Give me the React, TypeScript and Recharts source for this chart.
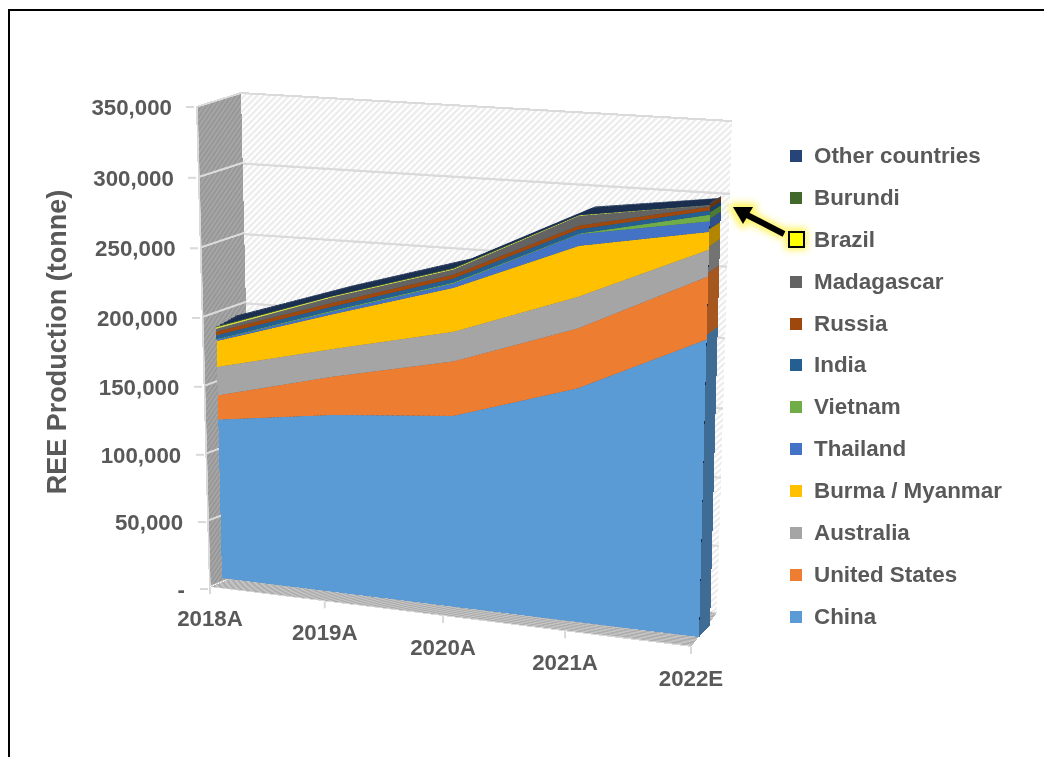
import React from 'react';
import {
  AreaChart,
  Area,
  XAxis,
  YAxis,
  CartesianGrid,
  ReferenceLine,
  Legend,
} from 'recharts';

// Annual rare earth production by country, in tonnes.
const years = ['2018A', '2019A', '2020A', '2021A', '2022E'];
const china = [120000, 132000, 140000, 168000, 210000];
const unitedStates = [18000, 28000, 39000, 42000, 43000];
const australia = [21000, 20000, 21000, 22000, 18000];
const burma = [19000, 25000, 31000, 35000, 12000];
const thailand = [1000, 1900, 3000, 8000, 7100];
const vietnam = [400, 700, 700, 400, 4300];
const india = [2900, 2900, 2900, 2900, 2900];
const russia = [2700, 2700, 2700, 2600, 2600];
const madagascar = [2000, 4000, 3500, 6500, 960];
const brazil = [1100, 710, 600, 500, 80];
const burundi = [630, 200, 500, 100, 0];
const otherCountries = [100, 100, 100, 100, 100];

const seriesNames = [
  'China',
  'United States',
  'Australia',
  'Burma / Myanmar',
  'Thailand',
  'Vietnam',
  'India',
  'Russia',
  'Madagascar',
  'Brazil',
  'Burundi',
  'Other countries',
];
const seriesValues = [
  china,
  unitedStates,
  australia,
  burma,
  thailand,
  vietnam,
  india,
  russia,
  madagascar,
  brazil,
  burundi,
  otherCountries,
];
const seriesColors = [
  '#5B9BD5',
  '#ED7D31',
  '#A5A5A5',
  '#FFC000',
  '#4472C4',
  '#70AD47',
  '#255E91',
  '#9E480E',
  '#636363',
  '#D8DC4A',
  '#43682B',
  '#264478',
];
const sideColors = [
  '#3F6C94',
  '#A5571F',
  '#737373',
  '#B28600',
  '#2F5089',
  '#4E7931',
  '#1A4165',
  '#6E320A',
  '#454545',
  '#97991F',
  '#2E481E',
  '#1A2F54',
];
const valueTicks = [0, 50000, 100000, 150000, 200000, 250000, 300000, 350000];
const MAX_VALUE = 350000;

const rows = years.map((year, i) => {
  const row: Record<string, string | number> = { year };
  seriesNames.forEach((name, s) => {
    row[name] = seriesValues[s][i];
  });
  return row;
});
const lastRow = rows[rows.length - 1];
const sideRows = [
  { ...lastRow, year: 'front' },
  { ...lastRow, year: 'back' },
];

type Pt = [number, number];
type Quad = [Pt, Pt, Pt, Pt]; // top-left, top-right, bottom-right, bottom-left

// Projective coefficients taking the unit square onto a quad.
function solveQuad(q: Quad) {
  const [[x0, y0], [x1, y1], [x2, y2], [x3, y3]] = q;
  const dx1 = x1 - x2;
  const dx2 = x3 - x2;
  const sx = x0 - x1 + x2 - x3;
  const dy1 = y1 - y2;
  const dy2 = y3 - y2;
  const sy = y0 - y1 + y2 - y3;
  const den = dx1 * dy2 - dx2 * dy1;
  const g = (sx * dy2 - dx2 * sy) / den;
  const h = (dx1 * sy - sx * dy1) / den;
  return {
    a: x1 - x0 + g * x1,
    b: x3 - x0 + h * x3,
    c: x0,
    d: y1 - y0 + g * y1,
    e: y3 - y0 + h * y3,
    f: y0,
    g,
    h,
  };
}

function project(q: Quad, u: number, v: number): Pt {
  const m = solveQuad(q);
  const w = m.g * u + m.h * v + 1;
  return [(m.a * u + m.b * v + m.c) / w, (m.d * u + m.e * v + m.f) / w];
}

function lerpQuad(p: Quad, q: Quad, t: number): Quad {
  return p.map((pt, i) => [
    pt[0] + (q[i][0] - pt[0]) * t,
    pt[1] + (q[i][1] - pt[1]) * t,
  ]) as Quad;
}

// The 3D box: every face is an ordinary flat chart put into perspective.
const BACK_WALL: Quad = [[240, 92], [732, 120], [717, 613], [252, 570]];
const LEFT_WALL: Quad = [[196, 106], [241, 92], [252, 570], [209, 587]];
const FLOOR: Quad = [[252, 570], [717, 613], [691, 647], [210, 587]];
const AREA_FRONT: Quad = [[211, 101], [712, 131], [699, 637], [222, 578]];
const AREA_BACK: Quad = [[231, 88], [723, 125], [710, 625], [240, 571]];
const AREA_SIDE: Quad = [AREA_FRONT[1], AREA_BACK[1], AREA_BACK[2], AREA_FRONT[2]];
const TOP_SWEEP = [1, 0.8, 0.6, 0.4, 0.2];

const NONE = { top: 0, right: 0, bottom: 0, left: 0 };

function Plane({ quad, w, h, children }: { quad: Quad; w: number; h: number; children: React.ReactNode }) {
  const m = solveQuad(quad);
  const matrix = [
    m.a / w, m.d / w, 0, m.g / w,
    m.b / h, m.e / h, 0, m.h / h,
    0, 0, 1, 0,
    m.c, m.f, 0, 1,
  ].join(',');
  return (
    <div
      style={{
        position: 'absolute',
        left: 0,
        top: 0,
        width: w,
        height: h,
        transformOrigin: '0 0',
        transform: `matrix3d(${matrix})`,
      }}
    >
      {children}
    </div>
  );
}

function Stack({ w, h, data, colors }: { w: number; h: number; data: typeof rows; colors: string[] }) {
  return (
    <AreaChart width={w} height={h} data={data} margin={NONE}>
      <XAxis dataKey="year" hide />
      <YAxis hide domain={[0, MAX_VALUE]} />
      {seriesNames.map((name, i) => (
        <Area
          key={name}
          type="linear"
          dataKey={name}
          stackId="production"
          fill={colors[i]}
          fillOpacity={1}
          stroke="none"
          dot={false}
          activeDot={false}
          isAnimationActive={false}
        />
      ))}
    </AreaChart>
  );
}

function Hatch({ id, base, line }: { id: string; base: string; line: string }) {
  return (
    <defs>
      <pattern id={id} width="9" height="9" patternUnits="userSpaceOnUse" patternTransform="rotate(45)">
        <rect width="9" height="9" fill={base} />
        <rect width="4.5" height="9" fill={line} />
      </pattern>
    </defs>
  );
}

// The unpainted series keeps the value axis live so the reference lines have a scale.
function Wall({ id, w, h, base, line, edge }: { id: string; w: number; h: number; base: string; line: string; edge?: boolean }) {
  return (
    <AreaChart width={w} height={h} data={rows} margin={NONE}>
      <Hatch id={id} base={base} line={line} />
      <XAxis dataKey="year" hide />
      <YAxis hide domain={[0, MAX_VALUE]} ticks={valueTicks} />
      <CartesianGrid horizontal={false} vertical={false} fill={`url(#${id})`} fillOpacity={1} />
      <Area
        dataKey={seriesNames[0]}
        fill="none"
        stroke="none"
        dot={false}
        activeDot={false}
        isAnimationActive={false}
      />
      {valueTicks.map((v) => (
        <ReferenceLine key={v} y={v} stroke="#DADADA" strokeWidth={v === MAX_VALUE ? 8 : 4.5} />
      ))}
      {edge ? <ReferenceLine x={years[0]} stroke="#D9D9D9" strokeWidth={8} /> : null}
    </AreaChart>
  );
}

function FloorFace({ w, h }: { w: number; h: number }) {
  return (
    <AreaChart width={w} height={h} data={rows} margin={NONE}>
      <Hatch id="floorHatch" base="#C4C4C4" line="#ADADAD" />
      <XAxis dataKey="year" hide />
      <YAxis hide domain={[0, MAX_VALUE]} />
      <CartesianGrid horizontal={false} vertical={false} fill="url(#floorHatch)" fillOpacity={1} />
      <Area
        dataKey={seriesNames[0]}
        fill="none"
        stroke="none"
        dot={false}
        activeDot={false}
        isAnimationActive={false}
      />
      <ReferenceLine y={0} stroke="#D9D9D9" strokeWidth={6} />
    </AreaChart>
  );
}

// Value labels follow the wall's leading edge, which slants inwards going down.
function ValueTick({ y, payload }: any) {
  const share = payload.value / MAX_VALUE;
  const bow = 4.5 * Math.sin(Math.PI * share);
  const cy = y + bow;
  const edgeX = 207 - 14 * share;
  return (
    <g>
      <line x1={edgeX - 7} x2={edgeX + 1} y1={cy} y2={cy} stroke="#D9D9D9" strokeWidth={2} />
      <text
        x={185 - 13 * share}
        y={cy}
        dy="0.35em"
        textAnchor="end"
        fontSize={22.3}
        fontWeight={700}
        fill="#595959"
      >
        {payload.value === 0 ? '-' : payload.value.toLocaleString('en-US')}
      </text>
    </g>
  );
}

// Year labels hang off the floor's front edge, spaced like the stack's categories.
function YearTick({ index, payload }: any) {
  const [frontX] = project(AREA_FRONT, index / (years.length - 1), 1);
  const [leftX, leftY] = FLOOR[3];
  const [rightX, rightY] = FLOOR[2];
  const x = leftX + ((frontX - AREA_FRONT[3][0]) * (rightX - leftX)) / (AREA_FRONT[2][0] - AREA_FRONT[3][0]);
  const y = leftY + ((x - leftX) * (rightY - leftY)) / (rightX - leftX);
  return (
    <g>
      <line x1={x} x2={x} y1={y} y2={y + 7} stroke="#D9D9D9" strokeWidth={2} />
      <text x={x} y={y + 31} dy="0.35em" textAnchor="middle" fontSize={22.3} fontWeight={700} fill="#595959">
        {payload.value}
      </text>
    </g>
  );
}

function LegendList() {
  const items = seriesNames.map((name, i) => ({ name, color: seriesColors[i] })).reverse();
  return (
    <div>
      {items.map((item) => {
        const highlighted = item.name === 'Brazil';
        return (
          <div
            key={item.name}
            style={{ position: 'relative', height: 41.9, lineHeight: '41.9px', whiteSpace: 'nowrap' }}
          >
            {highlighted ? (
              <span
                style={{
                  position: 'absolute',
                  left: 8,
                  top: 12,
                  width: 13,
                  height: 13,
                  background: '#FFFF00',
                  border: '2px solid #000',
                }}
              />
            ) : (
              <span
                style={{
                  position: 'absolute',
                  left: 10,
                  top: 15,
                  width: 12,
                  height: 12,
                  background: item.color,
                }}
              />
            )}
            <span
              style={{
                position: 'absolute',
                left: 34,
                top: 0,
                fontSize: 22.4,
                fontWeight: 700,
                color: '#595959',
              }}
            >
              {item.name}
            </span>
          </div>
        );
      })}
    </div>
  );
}

function Axes() {
  return (
    <div style={{ position: 'absolute', left: 0, top: 0 }}>
      <AreaChart
        width={1044}
        height={757}
        data={rows}
        margin={{ top: 107, right: 340, bottom: 138, left: 0 }}
      >
        <XAxis
          dataKey="year"
          height={30}
          interval={0}
          axisLine={false}
          tickLine={false}
          tick={<YearTick />}
        />
        <YAxis
          width={205}
          domain={[0, MAX_VALUE]}
          ticks={valueTicks}
          axisLine={false}
          tickLine={false}
          tick={<ValueTick />}
        />
        {seriesNames.map((name) => (
          <Area
            key={name}
            type="linear"
            dataKey={name}
            stackId="legend"
            fill="none"
            stroke="none"
            legendType="square"
            dot={false}
            activeDot={false}
            isAnimationActive={false}
          />
        ))}
        <Legend
          layout="vertical"
          align="center"
          verticalAlign="middle"
          content={() => <LegendList />}
          wrapperStyle={{ left: 780, top: 135, width: 260, height: 503 }}
        />
      </AreaChart>
    </div>
  );
}

function CalloutGlow() {
  return (
    <svg width={1044} height={757} style={{ position: 'absolute', left: 0, top: 0 }}>
      <defs>
        <filter id="softGlow" x="-40%" y="-40%" width="180%" height="180%">
          <feGaussianBlur stdDeviation="3.5" />
        </filter>
      </defs>
      <g filter="url(#softGlow)" stroke="#FFF45C" fill="#FFF45C" strokeLinejoin="round">
        <line x1={750} y1={217} x2={784} y2={234} strokeWidth={12} />
        <polygon points="733,207 753,207 743,224" strokeWidth={8} />
        <rect x={786} y={229} width={20} height={20} strokeWidth={2} />
      </g>
    </svg>
  );
}

function Annotations() {
  return (
    <svg
      width={1044}
      height={757}
      style={{ position: 'absolute', left: 0, top: 0, pointerEvents: 'none' }}
    >
      {/* Page frame, open on the right */}
      <path d="M1044 10 H9 V757" fill="none" stroke="#000" strokeWidth={2} />
      {/* Callout from the Brazil legend entry to the top of the stack */}
      <line x1={747} y1={215} x2={784} y2={234} stroke="#000" strokeWidth={6} />
      <polygon points="733,207 753,207 743,224" fill="#000" />
    </svg>
  );
}

export default function App() {
  return (
    <div
      style={{
        position: 'absolute',
        left: 0,
        top: 0,
        width: 1044,
        height: 757,
        overflow: 'hidden',
        background: '#fff',
        fontFamily: '"Liberation Sans", Arial, sans-serif',
      }}
    >
      <Plane quad={BACK_WALL} w={1000} h={1000}>
        <Wall id="backHatch" w={1000} h={1000} base="#FFFFFF" line="#ECECEC" />
      </Plane>
      <Plane quad={LEFT_WALL} w={100} h={1000}>
        <Wall id="leftHatch" w={100} h={1000} base="#A6A6A6" line="#979797" edge />
      </Plane>
      <Plane quad={FLOOR} w={1000} h={100}>
        <FloorFace w={1000} h={100} />
      </Plane>
      {TOP_SWEEP.map((t) => (
        <Plane key={t} quad={lerpQuad(AREA_FRONT, AREA_BACK, t)} w={1000} h={1000}>
          <Stack w={1000} h={1000} data={rows} colors={seriesNames.map(() => '#1B2F50')} />
        </Plane>
      ))}
      <Plane quad={AREA_FRONT} w={1000} h={1000}>
        <Stack w={1000} h={1000} data={rows} colors={seriesColors} />
      </Plane>
      <Plane quad={AREA_SIDE} w={100} h={1000}>
        <Stack w={100} h={1000} data={sideRows} colors={sideColors} />
      </Plane>
      <CalloutGlow />
      <Axes />
      <div
        style={{
          position: 'absolute',
          left: 57,
          top: 342,
          transform: 'translate(-50%, -50%) rotate(-90deg)',
          whiteSpace: 'nowrap',
          fontSize: 27,
          fontWeight: 700,
          color: '#595959',
        }}
      >
        REE Production (tonne)
      </div>
      <Annotations />
    </div>
  );
}
